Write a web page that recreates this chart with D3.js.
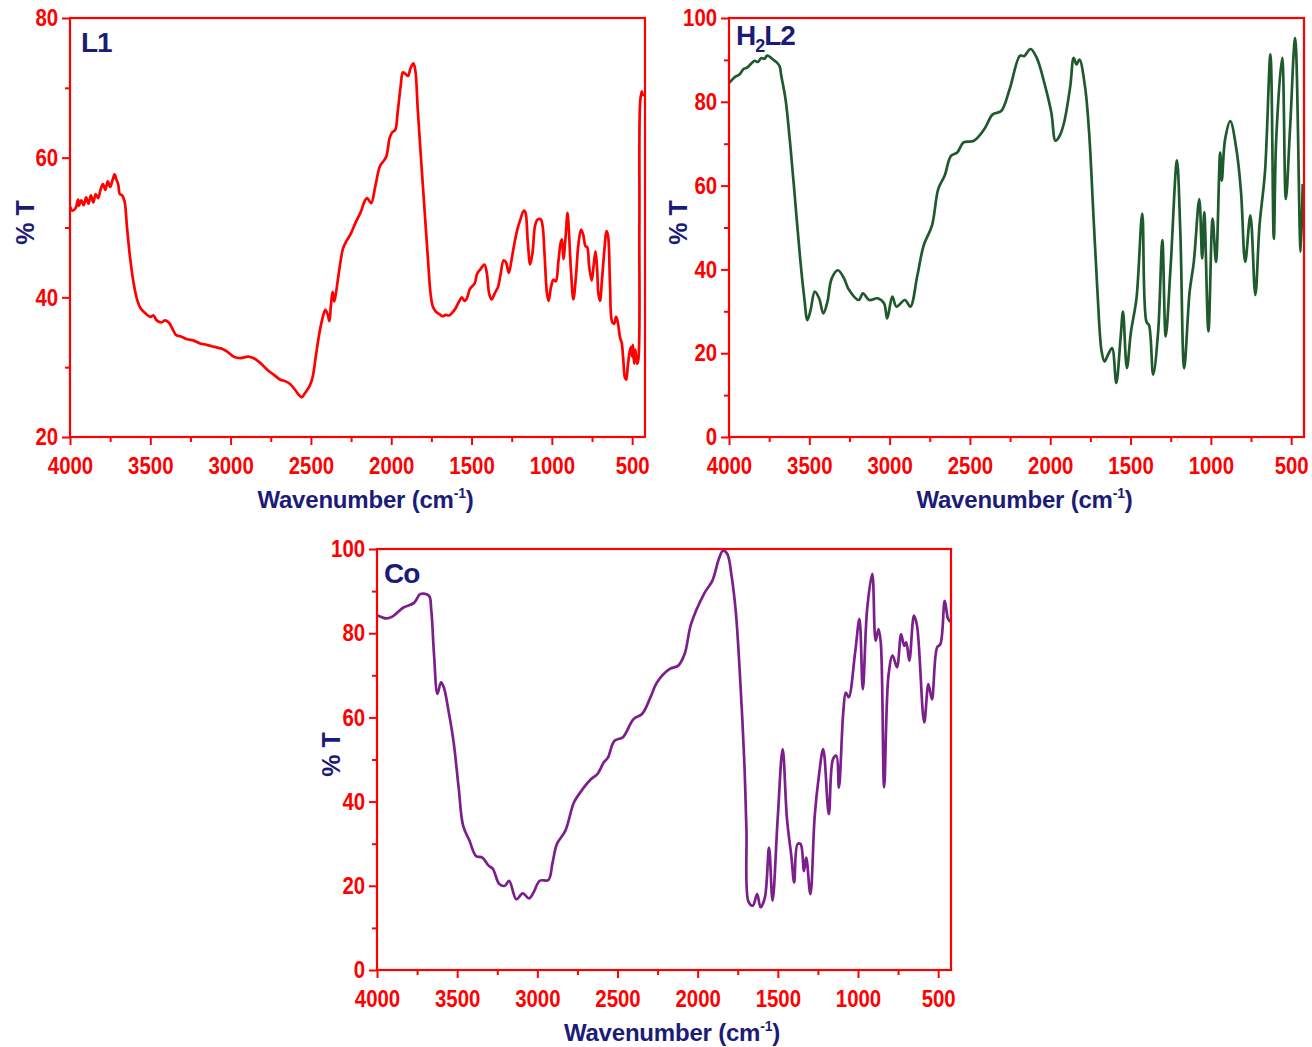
<!DOCTYPE html>
<html>
<meta charset="utf-8">
<style>
body { margin: 0; background: #fff; }
text { font-family: "Liberation Sans", Arial, sans-serif; font-weight: bold; }
.tick text { fill: #ff0000; font-size: 24px; }
.tick line { stroke: #ff0000; stroke-width: 2; }
.ttl { fill: #1c1c78; }
</style>
<head>
<script src="https://d3js.org/d3.v7.min.js"></script>
</head>
<body>
<script>
// spectra: [wavenumber cm-1, %T]
var l1 = [[4000,53],[3985,52.4],[3965,52.8],[3950,54],[3945,53.1],[3930,53.9],[3915,53.2],[3900,54.3],[3885,53.4],[3870,54.6],[3855,53.6],
  [3840,54.8],[3825,54.2],[3810,55.4],[3795,56.2],[3780,55.4],[3765,56.6],[3750,55.8],[3735,56.8],[3722,57.6],[3712,56.9],
  [3700,56.2],[3690,54.8],[3675,54.6],[3660,53.7],[3645,50],[3625,45.5],[3600,41.5],[3580,39.5],[3560,38.4],[3530,37.7],
  [3500,37.2],[3480,37.4],[3460,36.7],[3430,36.4],[3410,36.7],[3385,36.4],[3360,35.4],[3340,34.6],[3310,34.4],[3270,34],
  [3230,33.8],[3190,33.4],[3150,33.2],[3100,32.9],[3050,32.6],[3020,32.2],[2980,31.5],[2940,31.3],[2890,31.5],[2850,31.2],
  [2810,30.5],[2770,29.6],[2730,28.9],[2690,28.2],[2660,28],[2630,27.6],[2600,26.8],[2570,25.9],[2555,25.7],[2540,26.2],
  [2510,27.2],[2490,28.5],[2470,31.5],[2450,34.5],[2430,36.8],[2410,38.2],[2395,37.5],[2385,36.6],[2375,39],[2365,40.8],
  [2355,39.4],[2345,40.5],[2320,44.5],[2300,47],[2280,48],[2250,49.2],[2220,50.8],[2190,52.2],[2165,53.8],[2150,54.2],
  [2125,53.5],[2100,55.8],[2070,58.8],[2045,59.6],[2030,60.2],[2010,62.8],[1995,63.6],[1975,64],[1960,66.5],[1940,70.5],
  [1928,72.2],[1912,72],[1895,71.7],[1880,72.8],[1862,73.5],[1850,72.5],[1835,67],[1815,60],[1800,55],[1785,50],
  [1770,45],[1755,40.5],[1740,38.6],[1720,37.9],[1700,37.6],[1680,37.3],[1660,37.5],[1640,37.4],[1620,37.8],[1600,38.4],
  [1580,39.3],[1560,40],[1545,39.5],[1530,39.8],[1510,41.2],[1495,41.6],[1480,42],[1465,43.4],[1445,44],[1420,44.7],
  [1405,43.5],[1390,40.5],[1375,39.7],[1355,40.6],[1335,41.5],[1320,43.2],[1300,45.3],[1285,45],[1268,43.5],[1250,45.5],
  [1235,47.5],[1215,49.7],[1195,51.2],[1175,52.4],[1165,52.2],[1150,48],[1135,44.7],[1120,46.5],[1105,50.2],[1090,51.1],
  [1070,51.2],[1058,50.3],[1045,46],[1030,40.5],[1020,39.5],[1005,41.5],[990,42.5],[975,42.3],[960,45],[945,47.8],
  [937,48.3],[928,45.5],[915,48.5],[902,52.1],[895,50],[880,43.5],[866,39.7],[850,43],[835,47.5],[818,49.7],
  [805,49],[790,47.3],[780,47.2],[768,44.5],[752,42.4],[740,44.5],[728,46.6],[718,44],[710,40.5],[700,39.5],
  [688,42.5],[672,47],[660,49.5],[650,48.8],[638,42],[625,36.5],[612,36.2],[600,37.2],[590,36.5],[575,34.2],
  [565,33.5],[555,31],[545,28.5],[537,28.2],[527,30.2],[517,32],[507,32.9],[500,31.5],[495,33.2],[488,30.5],
  [480,32.5],[470,30.5],[462,31],[455,50],[450,68],[440,69.5],[432,68.8]];

var h2l2 = [[4000,84.5],[3987,85],[3960,86],[3935,86.5],[3910,87.8],[3885,88.2],[3857,89.3],[3840,89.8],[3820,89.5],[3800,90.4],
  [3778,90.3],[3765,91],[3752,90.9],[3730,90.2],[3700,89.3],[3685,88.5],[3674,86.1],[3648,80.6],[3622,71.1],[3596,60],
  [3557,42.6],[3531,33.1],[3512,27.9],[3492,30.3],[3466,34.7],[3439,33.1],[3413,29.5],[3387,32.3],[3361,37.8],[3322,39.8],
  [3283,37.8],[3257,35.4],[3192,32.7],[3166,34.3],[3127,32.7],[3075,33.1],[3035,31.9],[3015,28.3],[2983,33.5],[2957,31.1],
  [2905,32.7],[2871,31.1],[2827,38.6],[2788,45.7],[2736,50.5],[2697,59.2],[2657,62.4],[2618,67.1],[2579,67.9],[2540,70.3],
  [2475,70.7],[2410,73.5],[2358,77],[2305,77.8],[2253,83],[2188,91],[2162,90.9],[2123,92.6],[2084,90.5],[2032,83.8],
  [1993,77.4],[1967,70.7],[1941,71.9],[1914,75],[1875,83.8],[1854,90.5],[1836,88.9],[1818,90.1],[1784,83.8],[1758,72.7],
  [1732,53.7],[1706,34.7],[1680,20.4],[1662,18],[1641,19.6],[1615,21.2],[1589,12.9],[1562,23.6],[1547,29.9],[1523,16.5],
  [1497,25.2],[1463,33.1],[1427,53.3],[1401,27.5],[1385,26.7],[1359,14.9],[1328,25.2],[1302,47],[1281,24],[1250,41],
  [1211,66],[1190,48.9],[1166,16.4],[1132,34.7],[1106,41.8],[1072,56.8],[1054,42.6],[1041,53.7],[1015,25.2],[989,52.1],
  [968,41.8],[942,67.9],[932,61.2],[911,71.1],[879,75.4],[838,67.9],[812,58.4],[786,41.8],[754,52.9],[723,33.9],
  [697,50.5],[663,63.2],[629,91.3],[608,47.3],[593,71.1],[556,90.5],[533,56.8],[507,73.5],[475,95.2],[441,44.2],[428,60.4]];

var co = [[3995,84.2],[3942,83.5],[3902,84],[3835,86.1],[3769,87.2],[3729,89.3],[3676,88.9],[3662,85.7],[3644,74.7],[3623,65.6],
  [3601,68.3],[3583,67.1],[3556,62],[3522,54.1],[3490,43],[3463,34.3],[3423,30.7],[3383,27.1],[3343,26.7],[3304,24.8],
  [3277,24],[3237,20.4],[3203,20],[3176,21.2],[3131,16.8],[3091,18.2],[3051,17],[3024,18.4],[2985,21.2],[2931,21.4],
  [2905,25.5],[2878,29.9],[2825,33.1],[2772,39.8],[2732,42.2],[2666,45.3],[2626,46.5],[2586,49.3],[2559,50.5],[2520,54.4],
  [2466,55.3],[2400,59.6],[2347,60.8],[2294,64.8],[2254,68.3],[2174,71.5],[2121,72.3],[2081,75.1],[2041,82.2],[1961,89.3],
  [1908,92.5],[1868,97.6],[1842,99.6],[1815,98.8],[1789,93.7],[1762,85],[1735,69.1],[1709,49.3],[1696,33.5],[1682,16.1],
  [1656,15.3],[1629,18],[1608,14.9],[1581,17.2],[1555,29.1],[1533,16.5],[1501,35.9],[1470,52.5],[1443,35.9],[1416,27.1],
  [1398,20.8],[1377,29.9],[1358,29.9],[1337,23.5],[1323,26.7],[1297,18],[1270,36.6],[1244,46.1],[1217,52.5],[1182,37],
  [1156,50.1],[1135,50.9],[1119,43.3],[1092,61.2],[1076,65.9],[1058,64.8],[1018,75.4],[991,83.4],[970,66.7],[943,85.7],
  [911,94.1],[890,78.2],[872,81],[858,77.8],[837,43.4],[810,69.9],[784,74.7],[757,71.9],[731,79.8],[712,77],
  [699,77.8],[680,73.5],[651,84.2],[632,81.8],[587,58.8],[561,67.9],[539,64.3],[507,76.6],[486,77.4],[459,87.7],
  [438,83.4],[420,82.6]];

var xMajor = [4000, 3500, 3000, 2500, 2000, 1500, 1000, 500];
var xMinor = [3750, 3250, 2750, 2250, 1750, 1250, 750];
var yMajorL1 = [20, 40, 60, 80];
var yMinorL1 = [30, 50, 70];
var yMajor = [0, 20, 40, 60, 80, 100];
var yMinor = [10, 30, 50, 70, 90];

var panels = [
  {id: "p1", left: 70, top: 18, w: 575, h: 419, yDom: [20, 80], yMaj: yMajorL1, yMin: yMinorL1, data: l1, color: "#ff0000", label: "L1", ylx: -36},
  {id: "p2", left: 729, top: 18, w: 575, h: 419, yDom: [0, 100], yMaj: yMajor, yMin: yMinor, data: h2l2, color: "#1e5a2c", label: "H2L2", ylx: -42},
  {id: "p3", left: 377, top: 549, w: 574, h: 421, yDom: [0, 100], yMaj: yMajor, yMin: yMinor, data: co, color: "#7c1f8d", label: "Co", ylx: -37}
];

var svg = d3.select("body").append("svg")
    .attr("width", 1312)
    .attr("height", 1047);

panels.forEach(function(p) {
  var x = d3.scaleLinear().domain([4000, 420]).range([0, p.w]);
  var y = d3.scaleLinear().domain(p.yDom).range([p.h, 0]);

  var g = svg.append("g").attr("transform", "translate(" + p.left + "," + p.top + ")");

  g.append("clipPath").attr("id", "clip-" + p.id)
    .append("rect").attr("width", p.w).attr("height", p.h);

  // minor ticks first, then major with labels (labels squeezed a bit like the original)
  g.append("g").attr("transform", "translate(0," + p.h + ")")
    .call(d3.axisBottom(x).tickValues(xMinor).tickSize(5).tickFormat(""))
    .call(function(a) { a.select(".domain").remove(); });
  g.append("g").attr("transform", "translate(0," + p.h + ")")
    .call(d3.axisBottom(x).tickValues(xMajor).tickSize(8).tickPadding(12).tickFormat(d3.format("d")))
    .call(function(a) {
      a.select(".domain").remove();
      a.selectAll("text").attr("font-size", null).attr("transform", "scale(0.85,1)");
    });

  g.append("g")
    .call(d3.axisLeft(y).tickValues(p.yMin).tickSize(5).tickFormat(""))
    .call(function(a) { a.select(".domain").remove(); });
  g.append("g")
    .call(d3.axisLeft(y).tickValues(p.yMaj).tickSize(8).tickPadding(6).tickFormat(d3.format("d")))
    .call(function(a) {
      a.select(".domain").remove();
      a.selectAll("text").attr("font-size", null).attr("transform", "scale(0.85,1)");
    });

  var line = d3.line()
    .x(function(d) { return x(d[0]); })
    .y(function(d) { return y(d[1]); })
    .curve(d3.curveCatmullRom.alpha(0.5));

  g.append("path")
    .datum(p.data)
    .attr("clip-path", "url(#clip-" + p.id + ")")
    .attr("fill", "none")
    .attr("stroke", p.color)
    .attr("stroke-width", 2.7)
    .attr("stroke-linejoin", "round")
    .attr("d", line);

  // red frame
  g.append("rect")
    .attr("width", p.w).attr("height", p.h)
    .attr("fill", "none").attr("stroke", "#ff0000").attr("stroke-width", 2.2);

  // axis titles
  var xt = g.append("text").attr("class", "ttl")
    .attr("x", p.w / 2 + 8).attr("y", p.h + 71)
    .attr("text-anchor", "middle")
    .style("font-size", "24px").style("letter-spacing", "-0.2px");
  xt.append("tspan").text("Wavenumber (cm");
  xt.append("tspan").attr("dy", -10).style("font-size", "14px").text("-1");
  xt.append("tspan").attr("dy", 10).text(")");

  g.append("text").attr("class", "ttl")
    .attr("transform", "translate(" + p.ylx + "," + (p.h / 2 - 5) + ") rotate(-90)")
    .attr("text-anchor", "middle")
    .style("font-size", "25px")
    .text("% T");

  // sample label
  var lb = g.append("text").attr("class", "ttl")
    .attr("x", p.label == "L1" ? 11 : 7).attr("y", p.label == "H2L2" ? 27 : 34)
    .style("font-size", "28px").style("letter-spacing", "-1px");
  if (p.label == "H2L2") {
    lb.append("tspan").text("H");
    lb.append("tspan").attr("dy", 7).style("font-size", "18px").text("2");
    lb.append("tspan").attr("dy", -7).text("L2");
  } else {
    lb.text(p.label);
  }
});
</script>
</body>
</html>
